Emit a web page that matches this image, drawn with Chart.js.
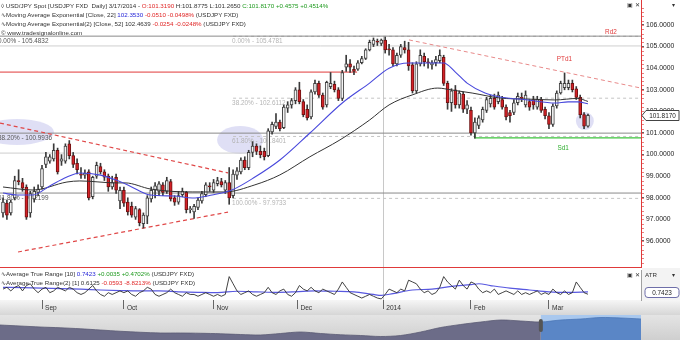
<!DOCTYPE html>
<html><head><meta charset="utf-8">
<script src="https://cdn.jsdelivr.net/npm/chart.js@4.4.1/dist/chart.umd.min.js"></script>
<style>
html,body{margin:0;padding:0;background:#fff;}
#wrap{position:relative;width:680px;height:340px;overflow:hidden;background:#fff;font-family:"Liberation Sans",Arial,sans-serif;}
canvas{position:absolute;left:0;}
.hd{position:absolute;left:1px;font-size:6.2px;line-height:9px;color:#333;white-space:nowrap;}
.b{color:#2626d8}.r{color:#e02626}.g{color:#1f9a1f}
</style></head><body>
<div id="wrap">
<canvas id="main" width="680" height="268" style="top:0"></canvas>
<canvas id="atr" width="680" height="47" style="top:268px"></canvas>
<canvas id="nav" width="680" height="25" style="top:315px"></canvas>
<div class="hd" style="top:1px">◊ USD/JPY Spot [USDJPY FXD&nbsp; Daily] 3/17/2014 - <span class="r">O:101.3190</span> H:101.8775 L:101.2650 <span class="g">C:101.8170 +0.4575 +0.4514%</span></div>
<div class="hd" style="top:10px">∿Moving Average Exponential [Close, 22] <span class="b">102.3530</span> <span class="r">-0.0510 -0.0498%</span> (USDJPY FXD)</div>
<div class="hd" style="top:19px">∿Moving Average Exponential(2) [Close, 52] 102.4639 <span class="r">-0.0254 -0.0248%</span> (USDJPY FXD)</div>
<div class="hd" style="top:28px">© www.tradesignalonline.com</div>
<div class="hd" style="top:0px;left:627px">▣ ✕</div>
<div class="hd" style="top:0px;left:672px">▾</div>
<div class="hd" style="top:269px">∿Average True Range [10] <span class="b">0.7423</span> <span class="g">+0.0035 +0.4702%</span> (USDJPY FXD)</div>
<div class="hd" style="top:278px">∿Average True Range(2) [1] 0.6125 <span class="r">-0.0593 -8.8213%</span> (USDJPY FXD)</div>
<div class="hd" style="top:270px;left:627px">▣ ✕</div>
<div class="hd" style="top:270px;left:645px">ATR</div>
<div class="hd" style="top:270px;left:672px">▾</div>
</div>
<script>
const FONT = '"Liberation Sans", Arial, sans-serif';

// ---- price data (daily candles, 19 Aug 2013 .. 17 Mar 2014) ----
const candleOpen = [97.3,97.75,97.3,98.0,98.8,98.7,98.5,97.3,97.95,98.25,
 98.5,99.55,99.7,99.8,100.2,99.7,99.7,100.5,99.95,99.6,
 99.1,99.05,99.2,98.05,99.0,99.45,99.2,99.0,98.5,98.95,
 97.85,98.35,97.8,97.6,97.1,97.45,96.8,97.15,97.95,98.35,
 98.3,98.6,98.3,98.75,98.0,97.8,98.15,98.25,97.45,97.35,
 97.55,97.85,98.15,98.55,98.35,98.65,98.75,98.35,98.7,98.1,
 99.05,99.2,99.75,99.4,100.1,100.4,100.15,100.15,99.95,101.05,
 101.3,101.5,101.25,102.15,102.3,102.5,103.0,102.45,102.1,101.75,
 102.9,103.3,102.75,102.3,103.15,103.25,103.0,102.6,104.05,104.2,
 103.95,103.95,104.25,104.45,104.85,105.1,105.25,105.15,105.3,104.9,
 104.85,104.2,104.6,104.95,104.85,104.15,102.95,104.2,104.55,104.3,
 104.15,104.25,104.35,104.5,103.3,102.4,103.0,102.3,102.8,102.1,
 102.05,101.0,101.35,101.6,102.05,102.35,102.6,102.45,102.55,102.2,
 101.95,101.95,102.4,102.65,102.3,102.45,102.55,102.2,102.55,102.1,
 101.8,101.4,102.25,102.85,103.1,103.1,103.3,103.05,102.65,101.85,
 101.319];
const candleHigh = [98.0,97.9,97.9,99.0,99.3,98.9,98.6,98.3,98.5,98.6,
 99.5,100.1,100.0,100.5,100.3,100.0,100.5,100.65,100.1,99.8,
 99.4,99.3,99.3,99.0,99.65,99.6,99.3,99.1,99.0,99.1,
 98.5,98.5,98.0,97.8,97.6,97.5,97.3,98.1,98.5,98.7,
 98.75,98.7,98.95,98.85,98.1,98.3,98.45,98.3,97.6,97.7,
 98.0,98.3,98.7,98.7,98.85,98.95,98.9,98.8,99.4,99.3,
 99.4,99.85,99.9,100.2,100.6,100.5,100.4,100.3,101.2,101.5,
 101.9,101.6,102.3,102.45,102.6,103.1,103.35,102.55,102.3,103.0,
 103.45,103.4,102.85,103.4,103.8,103.4,103.1,103.9,104.6,104.4,
 104.1,104.35,104.55,104.9,105.3,105.4,105.35,105.35,105.44,105.1,
 104.95,104.7,105.1,105.25,105.2,104.25,104.3,104.85,104.7,104.45,
 104.35,104.55,104.85,104.6,103.4,103.05,103.2,102.95,102.9,102.5,
 102.2,101.7,101.8,102.2,102.65,102.75,102.8,102.9,102.7,102.3,
 102.05,102.55,102.85,102.85,102.95,102.55,102.7,102.7,102.65,102.2,
 101.95,102.35,102.95,103.4,103.78,103.45,103.45,103.15,102.75,101.95,
 101.8775];
const candleLow = [97.1,97.0,97.2,97.9,98.6,98.3,97.0,97.1,97.8,98.1,
 98.4,99.4,99.6,99.7,99.1,99.5,99.6,99.8,99.4,99.1,
 98.9,98.9,97.9,97.95,98.9,99.1,98.8,98.3,98.4,98.2,
 97.5,97.6,97.2,97.1,97.0,96.7,96.6,96.8,97.8,98.0,
 98.1,98.1,98.2,97.85,97.65,97.7,98.05,97.3,97.3,97.05,
 97.45,97.75,98.05,98.3,98.25,98.55,98.5,98.2,97.7,98.0,
 98.85,99.1,99.3,99.3,99.9,100.0,99.85,99.75,99.9,100.95,
 101.2,101.1,101.2,101.95,102.15,102.35,102.35,101.75,101.6,101.65,
 102.8,102.65,102.1,102.2,103.05,102.9,102.5,102.5,103.85,103.8,
 103.7,103.9,104.2,104.4,104.8,105.0,105.05,105.05,104.7,104.6,
 104.1,104.1,104.5,104.7,103.9,102.85,102.85,104.1,104.1,104.0,
 103.95,104.1,104.25,103.2,102.1,102.0,102.15,102.15,101.95,101.9,
 100.9,100.76,101.2,101.5,101.95,102.2,102.1,102.35,102.1,101.6,
 101.5,101.85,102.3,102.45,102.2,102.05,102.1,102.1,101.95,101.65,
 101.2,101.3,102.15,102.8,103.0,103.0,102.9,102.55,101.7,101.2,
 101.265];
const candleClose = [97.8,97.2,97.8,98.8,98.75,98.45,97.1,98.2,98.3,98.4,
 99.35,99.9,99.9,100.2,99.2,99.8,100.4,99.95,99.55,99.3,
 99.05,99.15,98.0,98.95,99.5,99.2,98.95,98.5,98.7,98.35,
 98.35,97.75,97.35,97.2,97.5,96.85,97.2,98.0,98.35,98.55,
 98.65,98.25,98.8,97.95,97.8,98.1,98.3,97.45,97.5,97.6,
 97.9,98.2,98.6,98.5,98.7,98.8,98.6,98.7,98.0,99.1,
 99.25,99.75,99.4,100.1,100.4,100.15,100.0,99.9,101.1,101.4,
 101.5,101.2,102.2,102.3,102.5,103.0,102.45,101.85,101.7,102.9,
 103.3,102.75,102.2,103.35,103.3,103.0,102.6,103.8,104.2,104.05,
 103.85,104.25,104.45,104.85,105.2,105.3,105.2,105.3,104.85,104.85,
 104.2,104.6,105.0,104.85,104.1,102.95,104.2,104.6,104.3,104.25,
 104.25,104.4,104.6,103.3,102.4,102.95,102.3,102.85,102.1,102.3,
 101.0,101.5,101.7,102.1,102.55,102.6,102.2,102.75,102.2,101.75,
 101.8,102.4,102.7,102.6,102.75,102.2,102.3,102.55,102.05,101.8,
 101.4,102.25,102.85,103.3,103.3,103.3,103.0,102.65,101.85,101.32,
 101.817];

// EMA(22) and EMA(52): day index / value
const ema22Idx = [0,3.6,7.7,12,16.4,19.7,25,29,32.5,37.7,44,48.5,53.6,58.7,64.6,71,78.7,87,94,99,104,110,113,116,119,123.6,127.4,134.6,141.5,144.9,147.4,150];
const ema22Val = [98.22,98.13,98.13,98.55,98.96,99.15,99.05,98.82,98.55,98.13,98.08,97.99,98.13,98.36,98.96,99.75,101.0,102.39,103.31,104.0,104.24,104.24,104.24,103.82,103.31,102.85,102.67,102.53,102.39,102.44,102.44,102.35];
const ema52Idx = [0,7.7,16.4,19.7,29,31.3,38,48.5,56.9,64.6,71,78.7,86.4,94,99,104.9,111.5,115.1,120.3,127.4,134.6,141.5,147.4,150];
const ema52Val = [98.5,98.36,98.73,98.78,98.69,98.69,98.4,98.27,98.27,98.6,99.06,99.9,100.68,101.6,102.3,102.76,103.08,102.99,102.85,102.62,102.57,102.53,102.6,102.46];

// ATR panel
const atr2Values = [0.9,1.0,0.8,1.0,1.1,0.8,1.1,1.2,0.9,0.7,
 0.9,1.0,0.7,0.8,1.0,0.9,0.8,1.0,0.9,0.7,
 0.6,0.7,0.9,1.1,0.8,0.6,0.5,0.7,0.6,0.7,
 0.8,0.7,0.8,0.6,0.5,0.7,0.8,1.0,0.9,0.6,
 0.5,0.6,0.7,0.9,0.7,0.6,0.5,0.7,0.6,0.6,
 0.5,0.6,0.7,0.6,0.5,0.6,0.5,0.6,1.6,1.2,
 0.8,0.6,0.7,0.8,0.6,0.5,0.6,0.7,1.0,0.7,
 0.6,0.8,0.9,0.6,0.5,0.7,1.1,0.9,0.8,1.0,
 0.8,0.7,0.9,0.8,0.7,0.6,0.9,1.3,1.0,0.7,
 0.6,0.5,0.4,0.5,0.6,0.5,0.4,0.35,0.6,0.9,
 0.8,0.7,0.9,0.8,1.4,1.3,1.2,0.9,0.7,0.8,
 0.6,0.7,1.0,1.6,1.3,1.1,0.9,1.4,1.1,0.9,
 1.3,1.2,0.9,0.7,0.8,0.7,0.9,0.6,0.7,0.8,
 0.7,0.6,0.8,0.6,0.7,0.6,0.7,0.8,0.6,0.7,
 0.6,0.9,0.7,0.6,0.8,0.6,0.7,1.3,1.0,0.7,
 0.6125];
const atr10Idx = [0,5,10,15,20,25,30,35,40,45,50,55,60,65,70,75,80,85,90,95,97,100,105,110,115,120,122,125,130,135,140,145,150];
const atr10Val = [1.0,0.98,0.95,0.93,0.9,0.85,0.82,0.8,0.8,0.75,0.72,0.7,0.78,0.75,0.72,0.75,0.8,0.78,0.75,0.6,0.55,0.65,0.85,0.9,1.05,1.15,1.2,1.1,0.95,0.85,0.75,0.72,0.7423];

// axis ticks
const monthTickIdx = [10,31,54,75.5,97.5,120,140];
const monthLabels = ['Sep','Oct','Nov','Dec','2014','Feb','Mar'];
const yearBreakIdx = 97.5;

// levels (price) and their spans (day index)
const fibSet1Price = [105.4832,100.9936,98.2199];
const fibSet1Label = ['0.00% - 105.4832','38.20% - 100.9936','61.80% - 98.2199'];
const fibSet2Price = [105.4781,102.6112,100.8401,97.9733];
const fibSet2Label = ['0.00% - 105.4781','38.20% - 102.6112','61.80% - 100.8401','100.00% - 97.9733'];
const fibSet2StartIdx = 59;
const resistanceRed = {price:103.82, from:-0.77, to:90.8};
const levelGray = {price:105.03};
const levelGrayLeft = {price:100.07, to:64};
const supportSd1 = {price:100.77, from:121, top:101.0};
const trendUpper1 = [[-0.77,101.46],[57.7,99.15]];
const trendLower1 = [[3.85,95.49],[57.7,97.34]];
const trendUpper2 = [[104.1,105.31],[163.6,103.08]];

// navigator (whole history, relative level)
const navValues = [60,56,52,49,45,40,35,31,28,28,27,25,22,20,26,32,26,21,18,14,18,32,50,62,72,80,76,72,80,84,90,88,84];
const navSelIdx = 27;

const X_MIN = -0.77, X_MAX = 163.6;
const P_MIN = 94.75, P_MAX = 107.157;

// ---------- main chart ----------
const wickData = candleLow.map((l,i)=>({x:i, y:[l, candleHigh[i]]}));
const bodyData = candleOpen.map((o,i)=>{
  const c = candleClose[i];
  let lo = Math.min(o,c), hi = Math.max(o,c);
  if (hi - lo < 0.05) { const m = (hi+lo)/2; lo = m-0.025; hi = m+0.025; }
  return {x:i, y:[lo,hi]};
});
const up = candleClose.map((c,i)=>c >= candleOpen[i]);
const hline = (p, a, b) => [{x:a, y:p},{x:b, y:p}];
const lineDs = (data, color, width, dash, order) => ({type:'line', data, borderColor:color, borderWidth:width, borderDash:dash||[], pointRadius:0, fill:false, tension:0, order});

const datasets = [
  {type:'bar', data:bodyData, backgroundColor:up.map(u=>u?'#f4f4f4':'#d42127'), borderColor:up.map(u=>u?'#404040':'#6e1212'), borderWidth:1, borderSkipped:false, barThickness:3, grouped:false, order:2},
  {type:'bar', data:wickData, backgroundColor:'#3a3a3a', borderWidth:0, barThickness:1, grouped:false, order:3},
  {type:'line', data:ema22Idx.map((v,k)=>({x:v, y:ema22Val[k]})), borderColor:'#4848dc', borderWidth:1.1, pointRadius:0, tension:0.4, cubicInterpolationMode:'monotone', order:1},
  {type:'line', data:ema52Idx.map((v,k)=>({x:v, y:ema52Val[k]})), borderColor:'#333333', borderWidth:1, pointRadius:0, tension:0.4, cubicInterpolationMode:'monotone', order:1},
];
fibSet1Price.forEach(p=>datasets.push(lineDs(hline(p, X_MIN, X_MAX), '#8a8a8a', 1, [], 9)));
fibSet2Price.forEach(p=>datasets.push(lineDs(hline(p, fibSet2StartIdx, X_MAX), '#c4c4c4', 1, [3,3], 9)));
datasets.push(lineDs(hline(levelGray.price, X_MIN, X_MAX), '#cfcfcf', 1, [], 9));
datasets.push(lineDs(hline(levelGrayLeft.price, X_MIN, levelGrayLeft.to), '#cdcdcd', 1, [], 9));
datasets.push(lineDs(hline(resistanceRed.price, resistanceRed.from, resistanceRed.to), '#e03a3a', 1, [], 8));
datasets.push(lineDs([{x:supportSd1.from, y:supportSd1.top},{x:supportSd1.from, y:supportSd1.price},{x:X_MAX, y:supportSd1.price}], '#3cc43c', 1.3, [], 8));
[trendUpper1, trendLower1, trendUpper2].forEach((t,k)=>datasets.push(lineDs(t.map(p=>({x:p[0], y:p[1]})), k===2?'#e88a8a':'#e04848', k===2?1:1.2, [4,3], 7)));

const ellipses = [
  {i:3.6, p:101.05, rx:37, ry:13},
  {i:60.8, p:100.68, rx:23, ry:14},
  {i:149.2, p:101.55, rx:9, ry:9}
];

const mainDeco = {
  id:'mainDeco',
  beforeDatasetsDraw(chart){
    const {ctx, chartArea:a, scales:{x,y}} = chart;
    ctx.save();
    ctx.fillStyle = 'rgba(178,178,232,0.42)';
    ellipses.forEach(e=>{ctx.beginPath(); ctx.ellipse(x.getPixelForValue(e.i), y.getPixelForValue(e.p), e.rx, e.ry, 0, 0, Math.PI*2); ctx.fill();});
    const xb = Math.round(x.getPixelForValue(yearBreakIdx))+0.5;
    ctx.strokeStyle='#c8c8c8'; ctx.lineWidth=1;
    ctx.beginPath(); ctx.moveTo(xb, y.getPixelForValue(fibSet1Price[0])); ctx.lineTo(xb, a.bottom); ctx.stroke();
    ctx.font = '6.4px '+FONT; ctx.textBaseline='top'; ctx.textAlign='left';
    ctx.fillStyle = '#555';
    fibSet1Label.forEach((t,k)=>ctx.fillText(t, -2, y.getPixelForValue(fibSet1Price[k])+2));
    ctx.fillStyle = '#b4b4b4';
    fibSet2Label.forEach((t,k)=>ctx.fillText(t, x.getPixelForValue(fibSet2StartIdx)-1, y.getPixelForValue(fibSet2Price[k])+2));
    ctx.restore();
  },
  afterDraw(chart){
    const {ctx, chartArea:a, scales:{x,y}} = chart;
    ctx.save();
    ctx.strokeStyle='#e03a3a'; ctx.lineWidth=1;
    ctx.beginPath(); ctx.moveTo(0, a.bottom-0.5); ctx.lineTo(a.right+1, a.bottom-0.5); ctx.stroke();
    ctx.strokeStyle='#e88080';
    for (let v=95; v<=107; v+=0.2){ const py=Math.round(y.getPixelForValue(v))+0.5; if(py<a.top||py>a.bottom) continue; ctx.beginPath(); ctx.moveTo(a.right+1, py); ctx.lineTo(a.right+3, py); ctx.stroke(); }
    ctx.font = '6.4px '+FONT; ctx.textBaseline='middle';
    ctx.fillStyle='#e03a3a';
    ctx.fillText('Rd2', x.getPixelForValue(154.4), y.getPixelForValue(105.68));
    ctx.fillText('PTd1', x.getPixelForValue(142), y.getPixelForValue(104.43));
    ctx.fillStyle='#2fae2f';
    ctx.fillText('Sd1', x.getPixelForValue(142.2), y.getPixelForValue(100.3));
    const last = candleClose[candleClose.length-1];
    const yy = Math.round(y.getPixelForValue(last))+0.5;
    const x0 = a.right+1;
    ctx.beginPath(); ctx.moveTo(x0, yy); ctx.lineTo(x0+4, yy-5); ctx.lineTo(679, yy-5); ctx.lineTo(679, yy+5); ctx.lineTo(x0+4, yy+5); ctx.closePath();
    ctx.fillStyle='#fff'; ctx.fill(); ctx.strokeStyle='#444'; ctx.stroke();
    ctx.fillStyle='#222'; ctx.textAlign='center'; ctx.fillText(last.toFixed(4), (x0+683)/2, yy+0.5);
    ctx.restore();
  }
};

new Chart(document.getElementById('main'), {
  type:'bar',
  data:{datasets},
  options:{
    responsive:false, animation:false, events:[],
    layout:{padding:0},
    plugins:{legend:{display:false}, tooltip:{enabled:false}},
    scales:{
      x:{type:'linear', min:X_MIN, max:X_MAX, display:false, offset:false},
      y:{type:'linear', position:'right', min:P_MIN, max:P_MAX,
        afterBuildTicks:s=>{ s.ticks = s.ticks.filter(t=>t.value>95.99 && t.value<106.01); },
        afterFit:s=>{ s.width=39; s.paddingTop=0; s.paddingBottom=0; },
        ticks:{stepSize:1, padding:2, font:{family:FONT, size:6.8}, color:'#222', callback:v=>Number(v).toFixed(4)},
        grid:{drawOnChartArea:false, tickLength:3, color:'#666'},
        border:{color:'#e03a3a', width:1}}
    }
  },
  plugins:[mainDeco]
});

// ---------- ATR chart ----------
const atrDeco = {
  id:'atrDeco',
  beforeDraw(chart){
    const {ctx, chartArea:a, width} = chart;
    ctx.save();
    const g = ctx.createLinearGradient(0, a.bottom, 0, chart.height);
    g.addColorStop(0,'#f6f6f6'); g.addColorStop(1,'#d6d6d6');
    ctx.fillStyle=g; ctx.fillRect(0, a.bottom, width, chart.height-a.bottom);
    ctx.fillStyle='#f3f3f3'; ctx.fillRect(a.right+1, 0, width-a.right, a.bottom);
    ctx.restore();
  },
  beforeDatasetsDraw(chart){
    const {ctx, chartArea:a, scales:{x}} = chart;
    ctx.save();
    const xb = Math.round(x.getPixelForValue(yearBreakIdx))+0.5;
    ctx.strokeStyle='#c8c8c8'; ctx.beginPath(); ctx.moveTo(xb, 0); ctx.lineTo(xb, a.bottom); ctx.stroke();
    ctx.restore();
  },
  afterDraw(chart){
    const {ctx, chartArea:a, scales:{y}} = chart;
    ctx.save();
    const v = atr10Val[atr10Val.length-1];
    const yy = Math.round(y.getPixelForValue(v))+0.5;
    const x0 = a.right+4;
    ctx.beginPath(); ctx.roundRect(x0, yy-5, 679-x0, 10, 3);
    ctx.fillStyle='#fff'; ctx.fill(); ctx.strokeStyle='#6e6ea8'; ctx.stroke();
    ctx.font='6.4px '+FONT; ctx.textAlign='center'; ctx.textBaseline='middle'; ctx.fillStyle='#222';
    ctx.fillText(v.toFixed(4), (x0+679)/2, yy+0.5);
    ctx.restore();
  }
};
new Chart(document.getElementById('atr'), {
  type:'line',
  data:{datasets:[
    {data:atr2Values.map((v,i)=>({x:i, y:v})), borderColor:'#2e2e2e', borderWidth:0.9, pointRadius:0, tension:0, order:0},
    {data:atr10Idx.map((v,k)=>({x:v, y:atr10Val[k]})), borderColor:'#5858e0', borderWidth:1.2, pointRadius:0, tension:0.4, cubicInterpolationMode:'monotone', order:1}
  ]},
  options:{
    responsive:false, animation:false, events:[],
    layout:{padding:{top:2, left:0, right:0, bottom:0}},
    plugins:{legend:{display:false}, tooltip:{enabled:false}},
    scales:{
      x:{type:'linear', min:X_MIN, max:X_MAX, position:'bottom', offset:false,
        afterBuildTicks:s=>{ s.ticks = monthTickIdx.map(v=>({value:v})); },
        afterFit:s=>{ s.height=15; s.paddingLeft=0; s.paddingRight=0; },
        ticks:{autoSkip:false, maxRotation:0, align:'start', labelOffset:3, padding:-5, font:{family:FONT, size:6.6}, color:'#333', callback:(v,k)=>monthLabels[k]},
        grid:{drawOnChartArea:false, tickLength:9, color:'#666'},
        border:{display:false}},
      y:{position:'right', min:0.29, max:1.97,
        afterFit:s=>{ s.width=39; s.paddingTop=0; s.paddingBottom=0; },
        ticks:{display:false}, grid:{display:false}, border:{color:'#a0a0a0'}}
    }
  },
  plugins:[atrDeco]
});

// ---------- navigator ----------
const navDeco = {
  id:'navDeco',
  beforeDraw(chart){
    const {ctx, chartArea:a, width, height, scales:{x}} = chart;
    ctx.save();
    const g = ctx.createLinearGradient(0,0,0,height);
    g.addColorStop(0,'#e4e4e4'); g.addColorStop(1,'#cfcfcf');
    ctx.fillStyle=g; ctx.fillRect(0,0,width,height);
    const xs = x.getPixelForValue(navSelIdx);
    ctx.fillStyle='#a9c8ee'; ctx.fillRect(xs, 0, a.right-xs, height);
    ctx.restore();
  },
  afterDraw(chart){
    const {ctx, scales:{x}} = chart;
    const xs = x.getPixelForValue(navSelIdx);
    ctx.save(); ctx.fillStyle='#555'; ctx.beginPath(); ctx.roundRect(xs-2, 4, 4, 13, 2); ctx.fill(); ctx.restore();
  }
};
const inSel = c => c.p0DataIndex >= navSelIdx;
new Chart(document.getElementById('nav'), {
  type:'line',
  data:{datasets:[
    {data:navValues.map((v,i)=>({x:i, y:v})), fill:'origin', backgroundColor:'#6c6c88', borderColor:'#5a5a74', borderWidth:0.8, pointRadius:0, tension:0.3,
     segment:{backgroundColor:c=>inSel(c)?'#5a86c6':undefined, borderColor:c=>inSel(c)?'#4a76b6':undefined}}
  ]},
  options:{
    responsive:false, animation:false, events:[],
    layout:{padding:{right:39, left:0, top:0, bottom:0}},
    plugins:{legend:{display:false}, tooltip:{enabled:false}},
    scales:{x:{type:'linear', display:false, min:0, max:navValues.length-1}, y:{display:false, min:0, max:100}}
  },
  plugins:[navDeco]
});
</script>
</body></html>
